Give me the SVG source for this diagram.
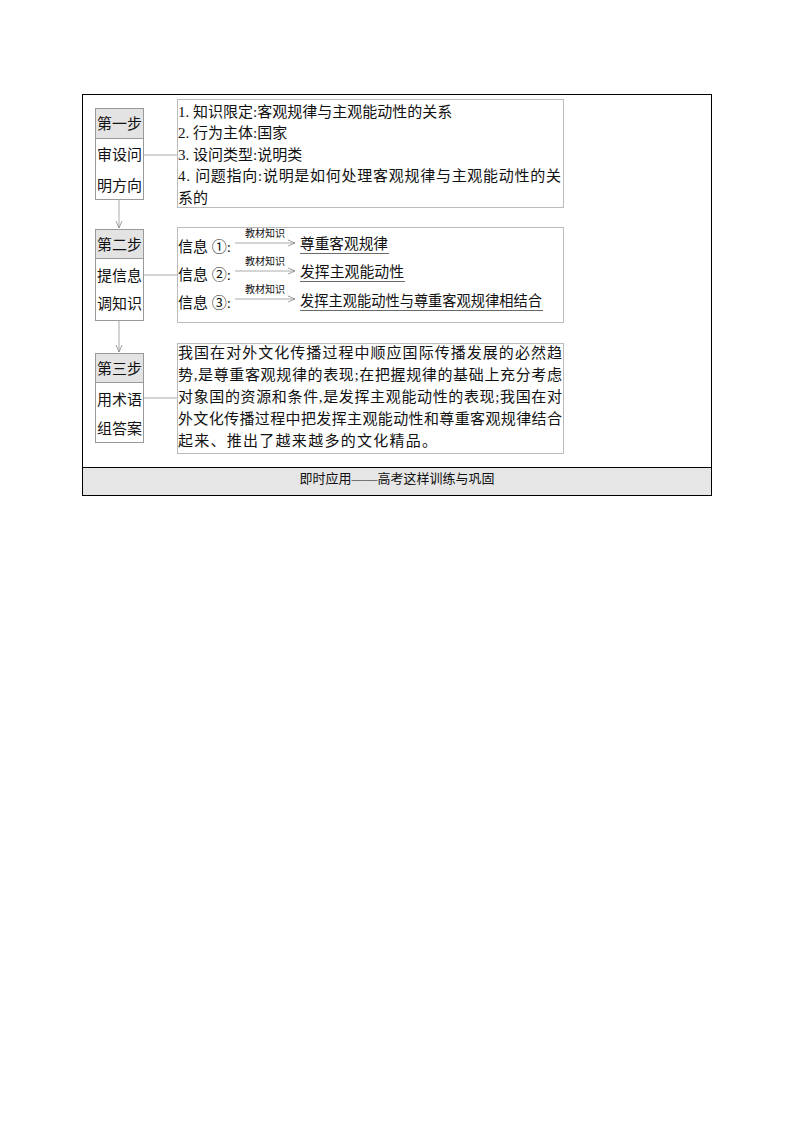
<svg xmlns="http://www.w3.org/2000/svg" width="794" height="1123" viewBox="0 0 794 1123">
<style>
text{font-family:"Liberation Serif","Noto Sans CJK SC",serif;font-size:15px;fill:#111}
.hd{fill:#e3e3e3;stroke:#999;stroke-width:1}
.bx{fill:#fff;stroke:#999;stroke-width:1}
.cb{fill:#fff;stroke:#bbb;stroke-width:1}
.ln{stroke:#aaa;stroke-width:1;fill:none}
.sm{font-size:10px}
.ul{stroke:#444;stroke-width:0.8}
.st{text-anchor:middle}
</style>
<defs>
<marker id="ah" markerWidth="8" markerHeight="8" refX="7" refY="4" orient="auto" markerUnits="userSpaceOnUse">
<path d="M0,1 L7,4 L0,7" fill="none" stroke="#888" stroke-width="0.8"/>
</marker>
</defs>
<rect x="0" y="0" width="794" height="1123" fill="#fff"/>
<rect x="82.5" y="94.5" width="629" height="401" fill="none" stroke="#000" stroke-width="1"/>
<rect x="83" y="467" width="628" height="28" fill="#e6e6e6"/>
<line x1="82.5" y1="467.5" x2="711.5" y2="467.5" stroke="#000" stroke-width="1"/>
<text x="397" y="483" class="st" style="font-size:13px">即时应用——高考这样训练与巩固</text>

<g id="connectors">
<line class="ln" x1="119" y1="200" x2="119" y2="228" marker-end="url(#ah)"/>
<line class="ln" x1="119" y1="320" x2="119" y2="352" marker-end="url(#ah)"/>
<line class="ln" x1="144" y1="155" x2="177" y2="155"/>
<line class="ln" x1="144" y1="275" x2="177" y2="275"/>
<line class="ln" x1="144" y1="398" x2="177" y2="398"/>
</g>

<g id="step1">
<rect class="bx" x="95.5" y="108.5" width="48" height="91"/>
<rect class="hd" x="95.5" y="108.5" width="48" height="30"/>
<text x="119.5" y="129" class="st">第一步</text>
<text x="119.5" y="160" class="st">审设问</text>
<text x="119.5" y="191" class="st">明方向</text>
</g>
<g id="content1">
<rect class="cb" x="177.5" y="99.5" width="386" height="108"/>
<text x="178" y="116.5">1. 知识限定:客观规律与主观能动性的关系</text>
<text x="178" y="138">2. 行为主体:国家</text>
<text x="178" y="159.5">3. 设问类型:说明类</text>
<text x="178" y="181" textLength="383" lengthAdjust="spacing">4. 问题指向:说明是如何处理客观规律与主观能动性的关</text>
<text x="178" y="202.5">系的</text>
</g>

<g id="step2">
<rect class="bx" x="95.5" y="229.5" width="48" height="91"/>
<rect class="hd" x="95.5" y="229.5" width="48" height="29"/>
<text x="119.5" y="249.5" class="st">第二步</text>
<text x="119.5" y="280.5" class="st">提信息</text>
<text x="119.5" y="308.5" class="st">调知识</text>
</g>
<g id="content2">
<rect class="cb" x="177.5" y="227.5" width="386" height="95"/>
<text x="178" y="252">信息 ①:</text>
<text x="178" y="280">信息 ②:</text>
<text x="178" y="308">信息 ③:</text>
<line class="ln" x1="235" y1="243" x2="295" y2="243" marker-end="url(#ah)"/>
<line class="ln" x1="235" y1="271" x2="295" y2="271" marker-end="url(#ah)"/>
<line class="ln" x1="235" y1="299" x2="295" y2="299" marker-end="url(#ah)"/>
<text x="265" y="237" class="sm st">教材知识</text>
<text x="265" y="265" class="sm st">教材知识</text>
<text x="265" y="293" class="sm st">教材知识</text>
<text x="300" y="249" textLength="88" lengthAdjust="spacingAndGlyphs">尊重客观规律</text>
<line class="ul" x1="300" y1="253.5" x2="389" y2="253.5"/>
<text x="300" y="277" textLength="104" lengthAdjust="spacingAndGlyphs">发挥主观能动性</text>
<line class="ul" x1="300" y1="281.5" x2="405" y2="281.5"/>
<text x="300" y="306" textLength="242" lengthAdjust="spacingAndGlyphs">发挥主观能动性与尊重客观规律相结合</text>
<line class="ul" x1="300" y1="310.5" x2="543" y2="310.5"/>
</g>

<g id="step3">
<rect class="bx" x="95.5" y="353.5" width="48" height="89"/>
<rect class="hd" x="95.5" y="353.5" width="48" height="29"/>
<text x="119.5" y="374" class="st">第三步</text>
<text x="119.5" y="405" class="st">用术语</text>
<text x="119.5" y="434" class="st">组答案</text>
</g>
<g id="content3">
<rect class="cb" x="177.5" y="343.5" width="386" height="110"/>
<text x="178" y="358" textLength="384" lengthAdjust="spacing">我国在对外文化传播过程中顺应国际传播发展的必然趋</text>
<text x="178" y="380" textLength="384" lengthAdjust="spacing">势,是尊重客观规律的表现;在把握规律的基础上充分考虑</text>
<text x="178" y="402" textLength="384" lengthAdjust="spacing">对象国的资源和条件,是发挥主观能动性的表现;我国在对</text>
<text x="178" y="424" textLength="384" lengthAdjust="spacing">外文化传播过程中把发挥主观能动性和尊重客观规律结合</text>
<text x="178" y="446" textLength="259" lengthAdjust="spacing">起来、推出了越来越多的文化精品。</text>
</g>
</svg>
